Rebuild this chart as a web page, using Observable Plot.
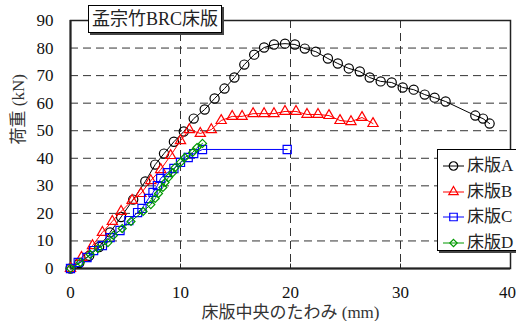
<!DOCTYPE html>
<html>
<head>
<meta charset="utf-8">
<script src="https://cdn.jsdelivr.net/npm/d3@7"></script>
<script src="https://cdn.jsdelivr.net/npm/@observablehq/plot@0.6"></script>
<style>
  body { margin: 0; background: white; }
  #wrap { position: relative; width: 516px; height: 321px; font-family: "Times New Roman", "Liberation Serif", "Noto Sans CJK JP", serif; }
  #title { position: absolute; left: 88px; top: 5px; height: 26px; padding: 0 3px; border: 1px solid #000; background: #fff;
    box-shadow: 2px 2px 0 #444; font-size: 18px; line-height: 26px; white-space: nowrap; color: #222; }
  #legend { position: absolute; left: 437px; top: 149px; width: 80px; height: 100px; border: 1px solid #000; background: #fff;
    box-shadow: 2px 2px 0 #444; }
  .row { position: absolute; left: 0; height: 24px; width: 80px; font-size: 17px; color: #222; white-space: nowrap; }
  .row svg { position: absolute; left: 4px; top: 4px; }
  .row span { position: absolute; left: 29px; top: 2px; line-height: 20px; }
</style>
</head>
<body>
<div id="wrap">
  <div id="chart"></div>
  <div id="title">孟宗竹BRC床版</div>
  <div id="legend"></div>
</div>
<script>
// ---- data (x: 床版中央のたわみ mm, y: 荷重 kN) ----
const seriesNames = ["床版A", "床版B", "床版C", "床版D"];

const xA = [0, 0.8, 1.7, 2.6, 3.6, 4.6, 5.7, 6.8, 7.7, 8.5, 9.4, 10.3, 11.2, 12.2, 13.1, 14.0, 14.9, 15.8, 16.7, 17.6, 18.5, 19.5, 20.4, 21.3, 22.3, 23.4, 24.3, 25.3, 26.3, 27.2, 28.2, 29.2, 30.2, 31.2, 32.2, 33.1, 34.1, 36.8, 37.5, 38.1];
const yA = [0, 2.0, 4.6, 7.8, 13.1, 18.7, 25.0, 31.6, 37.7, 41.7, 46.0, 49.7, 54.4, 57.7, 61.7, 65.3, 69.3, 74.0, 77.6, 80.2, 81.3, 81.6, 81.3, 79.8, 78.7, 76.2, 74.4, 72.6, 71.5, 69.3, 67.9, 67.5, 65.7, 64.9, 63.1, 62.0, 60.6, 55.5, 54.4, 52.6];

const xB = [0, 1.0, 2.0, 2.9, 3.8, 4.6, 5.6, 6.4, 7.3, 8.2, 9.1, 10.0, 10.8, 11.8, 12.8, 13.7, 14.7, 15.6, 16.6, 17.6, 18.5, 19.5, 20.5, 21.5, 22.5, 23.5, 24.5, 25.5, 26.5, 27.5];
const yB = [0, 4.0, 8.3, 13.1, 17.1, 20.7, 24.7, 27.2, 31.9, 35.9, 41.0, 46.4, 50.4, 49.0, 50.4, 53.7, 55.2, 55.2, 56.2, 56.2, 56.2, 57.0, 57.0, 55.9, 55.9, 55.5, 53.7, 53.3, 54.8, 52.6];

const xC = [0, 0.7, 1.5, 2.1, 2.9, 3.6, 4.5, 5.3, 6.1, 6.5, 7.1, 7.5, 7.9, 8.2, 8.8, 9.4, 10.0, 10.7, 11.2, 12.0, 19.7];
const yC = [0, 2.2, 4.0, 6.5, 8.3, 11.2, 13.8, 17.4, 20.3, 21.8, 25.4, 27.6, 30.1, 32.7, 34.8, 36.3, 38.5, 40.3, 41.7, 43.2, 43.2];

const xD = [0, 0.9, 1.8, 2.5, 3.4, 3.9, 4.7, 5.5, 6.6, 7.3, 7.7, 8.0, 8.4, 8.6, 8.9, 9.3, 9.5, 10.0, 10.4, 11.1, 11.5, 12.0];
const yD = [0, 2.2, 5.1, 7.3, 9.4, 12.0, 14.5, 17.1, 20.7, 23.2, 25.4, 27.2, 29.4, 31.2, 33.0, 34.8, 36.6, 38.5, 40.3, 42.1, 43.9, 45.4];

const xTicks = [0, 10, 20, 30, 40];
const yTicks = [0, 10, 20, 30, 40, 50, 60, 70, 80, 90];
const xLabel = "床版中央のたわみ (mm)";
const yLabel = "荷重 (kN)";

// ---- styles ----
const styles = [
  {symbol: "circle", color: "#000000", r: 4.6},
  {symbol: "triangle", color: "#ff0000", r: 3.8},
  {symbol: "square", color: "#0000ff", r: 4.6},
  {symbol: "diamond2", color: "#009900", r: 3.6}
];
const FONT = '"Times New Roman", "Liberation Serif", "Noto Sans CJK JP", serif';

const toRows = (xs, ys) => xs.map((x, i) => ({x, y: ys[i]}));
const seriesData = [toRows(xA, yA), toRows(xB, yB), toRows(xC, yC), toRows(xD, yD)];

const seriesMarks = seriesData.flatMap((d, i) => [
  Plot.line(d, {x: "x", y: "y", stroke: styles[i].color, strokeWidth: 1}),
  Plot.dot(d, {x: "x", y: "y", symbol: styles[i].symbol, r: styles[i].r, stroke: styles[i].color, fill: "none", strokeWidth: 1.2})
]);

const chart = Plot.plot({
  width: 516,
  height: 321,
  marginLeft: 70,
  marginRight: 6,
  marginTop: 20,
  marginBottom: 53,
  x: {domain: [0, 40]},
  y: {domain: [0, 90]},
  style: {fontFamily: FONT, fontSize: "17px", color: "#111", background: "white", overflow: "visible"},
  marks: [
    Plot.gridX(xTicks.slice(1, -1), {stroke: "#333", strokeOpacity: 1, strokeDasharray: "8,5", strokeWidth: 1}),
    Plot.gridY(yTicks.slice(1, -1), {stroke: "#333", strokeOpacity: 1, strokeDasharray: "8,5", strokeWidth: 1}),
    Plot.frame({stroke: "#222", strokeWidth: 1.5}),
    Plot.ruleX([0], {stroke: "#222", strokeWidth: 2}),
    Plot.ruleY([0], {stroke: "#222", strokeWidth: 2}),
    Plot.ruleX(xTicks.slice(1, -1), {y1: 0, y2: 1.6, stroke: "#222", strokeWidth: 1}),
    Plot.axisX({ticks: xTicks.slice(0, -1), tickSize: 0, tickPadding: 17, label: null, tickFormat: d => String(d)}),
    Plot.axisX({ticks: xTicks.slice(-1), tickSize: 0, tickPadding: 17, label: null, dx: -3, tickFormat: d => String(d)}),
    Plot.axisY({ticks: yTicks, tickSize: 0, tickPadding: 17, label: null, tickFormat: d => String(d)}),
    Plot.text([xLabel], {frameAnchor: "bottom", lineAnchor: "middle", dy: 44, fontSize: 17, fill: "#333"}),
    Plot.text([yLabel], {frameAnchor: "left", dx: -52, rotate: -90, fontSize: 17, fill: "#333"}),
    ...seriesMarks
  ]
});
document.getElementById("chart").appendChild(chart);

// ---- legend ----
const legend = document.getElementById("legend");
const symGen = {circle: d3.symbolCircle, triangle: d3.symbolTriangle, square: d3.symbolSquare, diamond2: d3.symbolDiamond2};
seriesNames.forEach((name, i) => {
  const row = document.createElement("div");
  row.className = "row";
  row.style.top = (4 + i * 25.5) + "px";
  const s = styles[i];
  const path = d3.symbol(symGen[s.symbol], Math.PI * s.r * s.r * 0.85)();
  row.innerHTML = `<svg width="24" height="16"><line x1="1" x2="22" y1="8" y2="8" stroke="${s.color}" stroke-width="1"/>` +
    `<path d="${path}" transform="translate(11.5,8)" fill="none" stroke="${s.color}" stroke-width="1.2"/></svg><span>${name}</span>`;
  legend.appendChild(row);
});
</script>
</body>
</html>
